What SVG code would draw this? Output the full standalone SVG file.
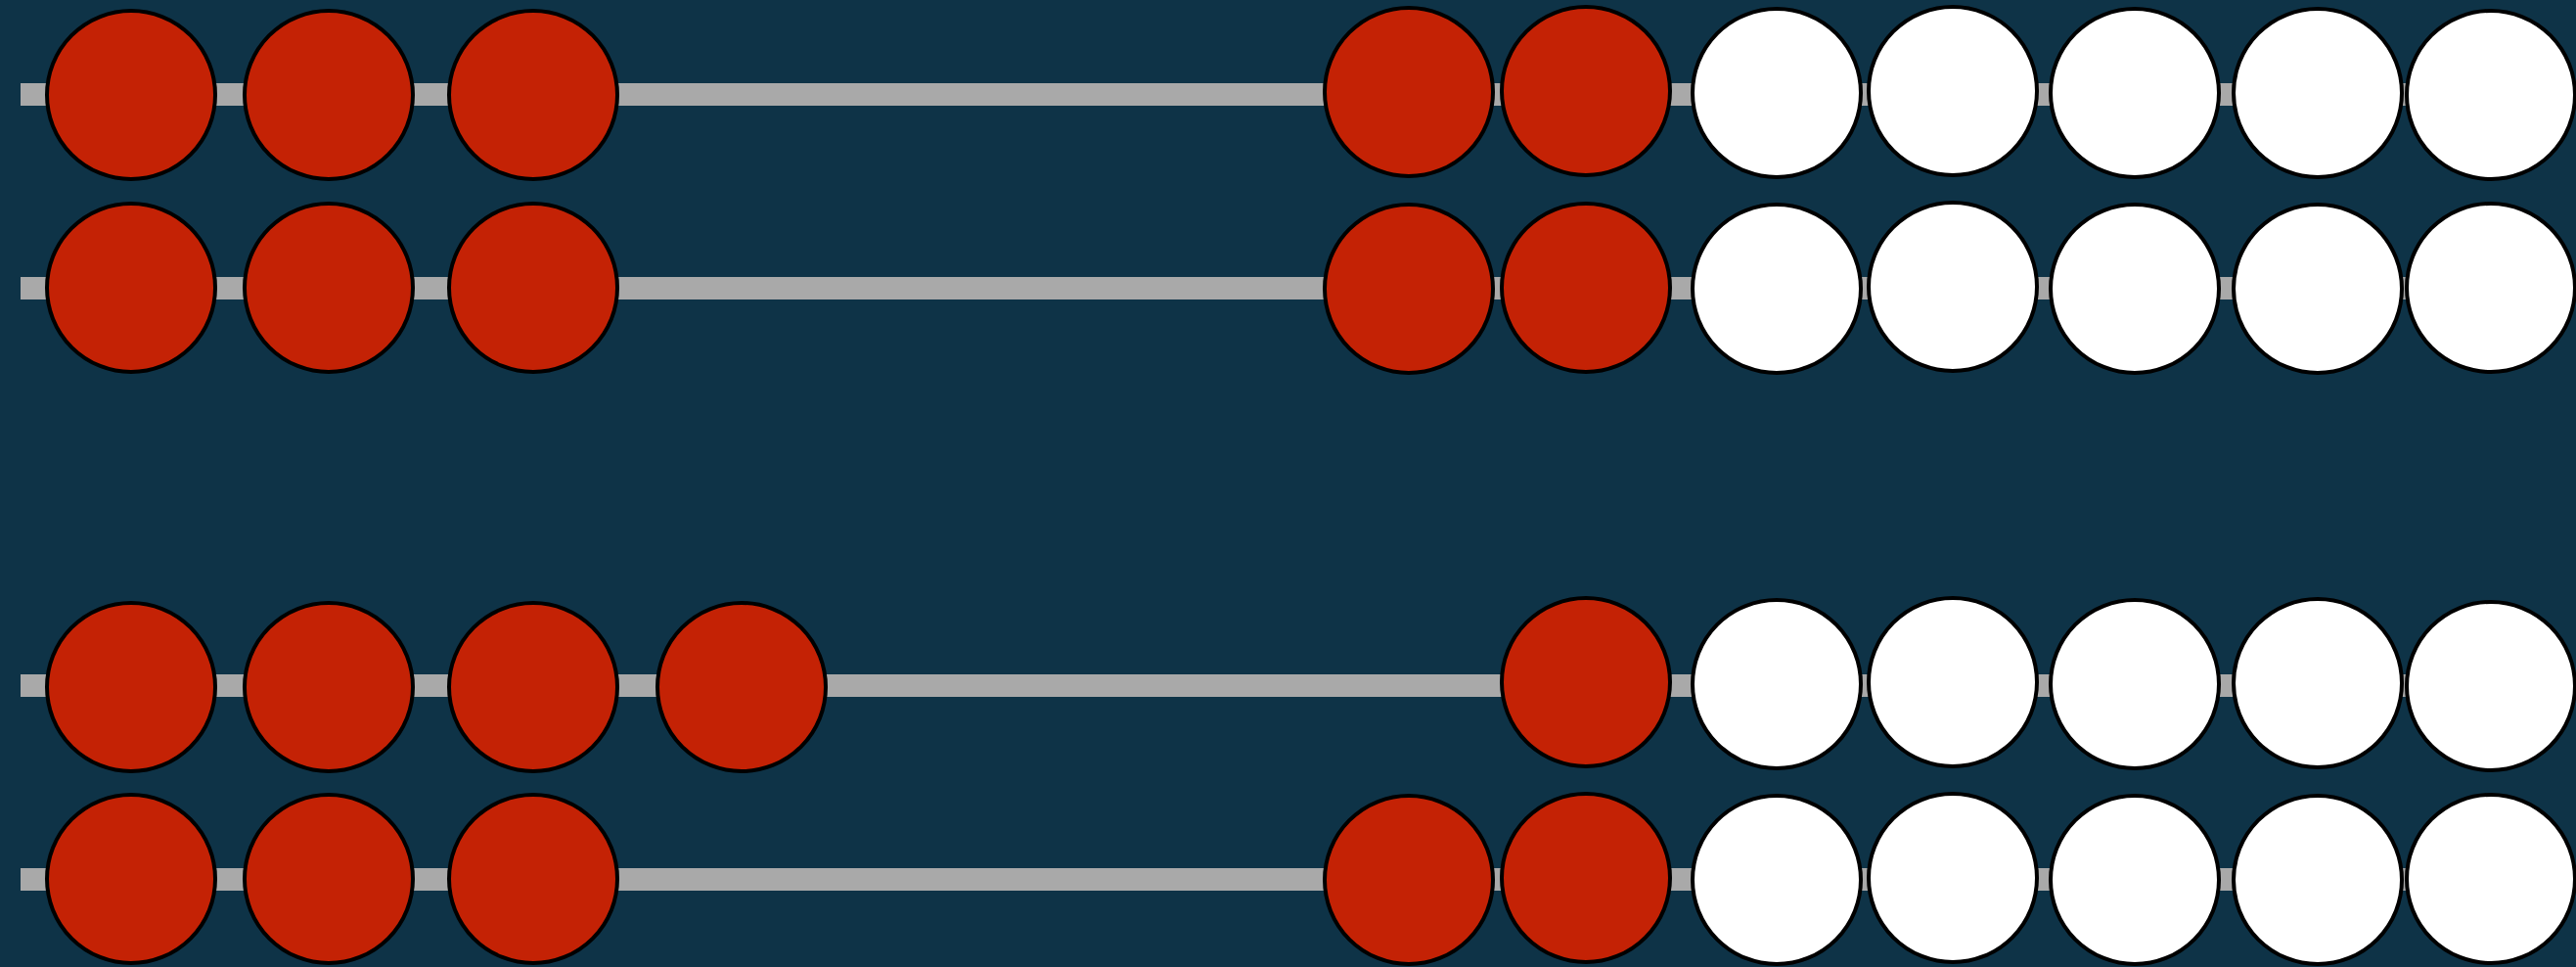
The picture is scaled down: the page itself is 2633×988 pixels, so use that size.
<svg xmlns="http://www.w3.org/2000/svg" width="2633" height="988" viewBox="0 0 2633 988">
<style>
.rod{fill:#a9a9a9}
.r{fill:#c42205;stroke:#000;stroke-width:4}
.w{fill:#fff;stroke:#000;stroke-width:4}
</style>
<rect width="2633" height="988" fill="#0e3347"/>
<g id="rods">
<rect class="rod" x="21" y="85" width="2590" height="23"/>
<rect class="rod" x="21" y="283" width="2590" height="23"/>
<rect class="rod" x="21" y="689" width="2590" height="23"/>
<rect class="rod" x="21" y="887" width="2590" height="23"/>
</g>
<g id="row1">
<circle class="r" cx="134" cy="97" r="86"/>
<circle class="r" cx="336" cy="97" r="86"/>
<circle class="r" cx="545" cy="97" r="86"/>
<circle class="r" cx="1440" cy="94" r="86"/>
<circle class="r" cx="1621" cy="93" r="86"/>
<circle class="w" cx="1816" cy="95" r="86"/>
<circle class="w" cx="1996" cy="93" r="86"/>
<circle class="w" cx="2182" cy="95" r="86"/>
<circle class="w" cx="2369" cy="95" r="86"/>
<circle class="w" cx="2546" cy="97" r="86"/>
</g>
<g id="row2">
<circle class="r" cx="134" cy="294" r="86"/>
<circle class="r" cx="336" cy="294" r="86"/>
<circle class="r" cx="545" cy="294" r="86"/>
<circle class="r" cx="1440" cy="295" r="86"/>
<circle class="r" cx="1621" cy="294" r="86"/>
<circle class="w" cx="1816" cy="295" r="86"/>
<circle class="w" cx="1996" cy="293" r="86"/>
<circle class="w" cx="2182" cy="295" r="86"/>
<circle class="w" cx="2369" cy="295" r="86"/>
<circle class="w" cx="2546" cy="294" r="86"/>
</g>
<g id="row3">
<circle class="r" cx="134" cy="702" r="86"/>
<circle class="r" cx="336" cy="702" r="86"/>
<circle class="r" cx="545" cy="702" r="86"/>
<circle class="r" cx="758" cy="702" r="86"/>
<circle class="r" cx="1621" cy="697" r="86"/>
<circle class="w" cx="1816" cy="699" r="86"/>
<circle class="w" cx="1996" cy="697" r="86"/>
<circle class="w" cx="2182" cy="699" r="86"/>
<circle class="w" cx="2369" cy="698" r="86"/>
<circle class="w" cx="2546" cy="701" r="86"/>
</g>
<g id="row4">
<circle class="r" cx="134" cy="898" r="86"/>
<circle class="r" cx="336" cy="898" r="86"/>
<circle class="r" cx="545" cy="898" r="86"/>
<circle class="r" cx="1440" cy="899" r="86"/>
<circle class="r" cx="1621" cy="897" r="86"/>
<circle class="w" cx="1816" cy="899" r="86"/>
<circle class="w" cx="1996" cy="897" r="86"/>
<circle class="w" cx="2182" cy="899" r="86"/>
<circle class="w" cx="2369" cy="899" r="86"/>
<circle class="w" cx="2546" cy="898" r="86"/>
</g>
</svg>
